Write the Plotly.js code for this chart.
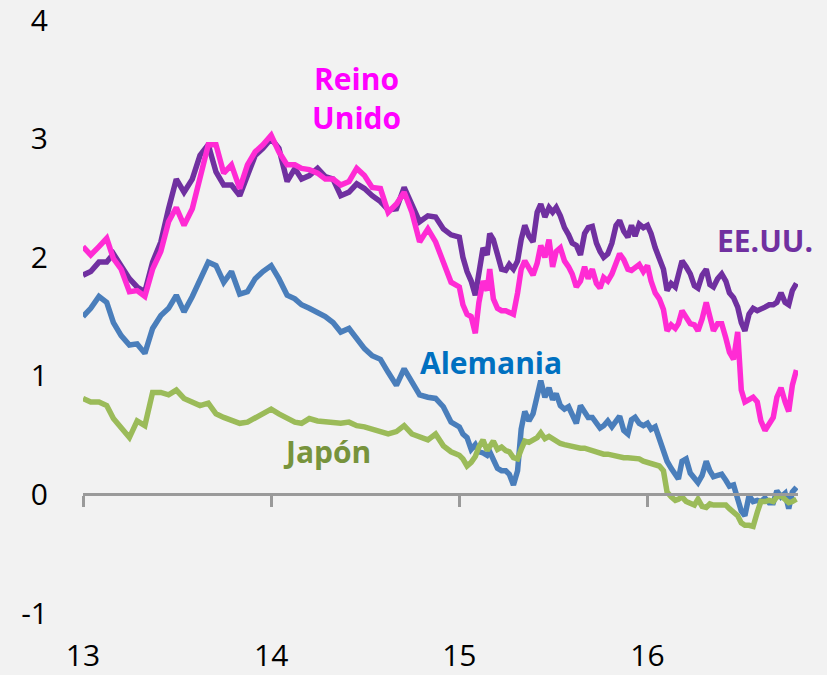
<!DOCTYPE html>
<html>
<head>
<meta charset="utf-8">
<script src="https://cdn.plot.ly/plotly-3.0.1.min.js"></script>
<style>html,body{margin:0;padding:0;background:#F2F2F2;}</style>
</head>
<body>
<div id="chart" style="width:827px;height:675px;"></div>
<script>
// half-month sampling for 2013-2014
const dates2013_14 = [
'2013-01-01','2013-01-16','2013-02-01','2013-02-16','2013-03-01','2013-03-16','2013-04-01','2013-04-16','2013-05-01','2013-05-16','2013-06-01','2013-06-16',
'2013-07-01','2013-07-16','2013-08-01','2013-08-16','2013-09-01','2013-09-16','2013-10-01','2013-10-16','2013-11-01','2013-11-16','2013-12-01','2013-12-16',
'2014-01-01','2014-01-16','2014-02-01','2014-02-16','2014-03-01','2014-03-16','2014-04-01','2014-04-16','2014-05-01','2014-05-16','2014-06-01','2014-06-16',
'2014-07-01','2014-07-16','2014-08-01','2014-08-16','2014-09-01','2014-09-16','2014-10-01','2014-10-16','2014-11-01','2014-11-16','2014-12-01','2014-12-16'
];
// quarter-month sampling for 2015-2016
const dates2015_16 = [
'2015-01-01','2015-01-08','2015-01-16','2015-01-24','2015-02-01','2015-02-08','2015-02-16','2015-02-24','2015-03-01','2015-03-08','2015-03-16','2015-03-24',
'2015-04-01','2015-04-08','2015-04-16','2015-04-24','2015-05-01','2015-05-08','2015-05-16','2015-05-24','2015-06-01','2015-06-08','2015-06-16','2015-06-24',
'2015-07-01','2015-07-08','2015-07-16','2015-07-24','2015-08-01','2015-08-08','2015-08-16','2015-08-24','2015-09-01','2015-09-08','2015-09-16','2015-09-24',
'2015-10-01','2015-10-08','2015-10-16','2015-10-24','2015-11-01','2015-11-08','2015-11-16','2015-11-24','2015-12-01','2015-12-08','2015-12-16','2015-12-24',
'2016-01-01','2016-01-08','2016-01-16','2016-01-24','2016-02-01','2016-02-08','2016-02-16','2016-02-24','2016-03-01','2016-03-08','2016-03-16','2016-03-24',
'2016-04-01','2016-04-08','2016-04-16','2016-04-24','2016-05-01','2016-05-08','2016-05-16','2016-05-24','2016-06-01','2016-06-08','2016-06-16','2016-06-24',
'2016-07-01','2016-07-08','2016-07-16','2016-07-24','2016-08-01','2016-08-08','2016-08-16','2016-08-24','2016-09-01','2016-09-08','2016-09-16','2016-09-24',
'2016-10-01','2016-10-08','2016-10-16'
];
const dates = dates2013_14.concat(dates2015_16);

const eeuu = [
1.85,1.88,1.96,1.96,2.03,1.93,1.82,1.75,1.71,1.96,2.13,2.41,2.66,2.55,2.66,2.86,2.95,2.72,2.61,2.61,2.52,2.69,2.86,2.92,
3.00,2.92,2.64,2.75,2.66,2.69,2.75,2.68,2.66,2.52,2.55,2.62,2.58,2.52,2.47,2.40,2.41,2.59,2.44,2.30,2.35,2.34,2.24,2.19,
2.17,2.00,1.88,1.80,1.68,1.85,2.08,2.02,2.20,2.15,2.00,1.90,1.89,1.94,1.90,1.97,2.15,2.27,2.18,2.13,2.38,2.45,2.34,2.42,
2.38,2.42,2.35,2.25,2.19,2.12,2.10,2.02,2.20,2.25,2.26,2.12,2.05,2.00,2.03,2.12,2.27,2.31,2.22,2.17,2.27,2.18,2.28,2.25,
2.27,2.20,2.08,2.00,1.90,1.72,1.78,1.75,1.86,1.97,1.92,1.86,1.76,1.74,1.85,1.90,1.77,1.75,1.82,1.86,1.80,1.70,1.66,1.58,
1.45,1.38,1.52,1.57,1.55,1.57,1.58,1.60,1.60,1.62,1.70,1.62,1.60,1.72,1.78
];

const reinoUnido = [
2.09,2.02,2.09,2.16,1.99,1.90,1.71,1.72,1.67,1.90,2.05,2.30,2.42,2.27,2.41,2.66,2.95,2.95,2.71,2.78,2.58,2.78,2.89,2.95,
3.03,2.89,2.78,2.78,2.75,2.74,2.71,2.66,2.66,2.61,2.64,2.75,2.69,2.59,2.58,2.38,2.45,2.55,2.38,2.13,2.24,2.13,1.96,1.79,
1.75,1.60,1.52,1.50,1.36,1.62,1.80,1.72,1.90,1.65,1.57,1.55,1.55,1.54,1.52,1.70,1.90,1.97,1.90,1.85,1.95,2.10,2.00,2.15,
1.92,2.05,2.08,1.97,1.92,1.86,1.75,1.80,1.92,1.82,1.90,1.78,1.74,1.83,1.80,1.86,1.95,2.03,1.98,1.90,1.89,1.92,1.94,1.88,
1.93,1.80,1.70,1.65,1.56,1.38,1.43,1.40,1.44,1.55,1.50,1.44,1.43,1.38,1.48,1.62,1.50,1.38,1.44,1.44,1.32,1.20,1.14,1.37,
0.88,0.78,0.80,0.82,0.78,0.62,0.54,0.60,0.65,0.82,0.90,0.78,0.70,0.92,1.05
];

const alemania = [
1.50,1.57,1.67,1.62,1.45,1.34,1.26,1.27,1.19,1.40,1.51,1.57,1.68,1.54,1.67,1.82,1.96,1.93,1.79,1.88,1.69,1.71,1.82,1.88,
1.93,1.82,1.68,1.65,1.60,1.57,1.54,1.50,1.45,1.37,1.40,1.31,1.23,1.17,1.14,1.03,0.92,1.06,0.95,0.84,0.82,0.81,0.74,0.61,
0.57,0.51,0.48,0.38,0.42,0.36,0.35,0.33,0.36,0.28,0.22,0.20,0.20,0.17,0.08,0.20,0.55,0.70,0.62,0.68,0.85,0.96,0.82,0.90,
0.80,0.85,0.75,0.72,0.74,0.68,0.60,0.75,0.70,0.65,0.65,0.60,0.56,0.58,0.62,0.57,0.63,0.66,0.54,0.51,0.63,0.65,0.60,0.58,
0.60,0.55,0.57,0.47,0.36,0.28,0.22,0.16,0.13,0.28,0.30,0.18,0.13,0.10,0.16,0.28,0.20,0.15,0.16,0.17,0.12,0.07,0.08,-0.02,
-0.14,-0.18,-0.01,-0.06,-0.05,-0.06,-0.03,-0.07,-0.07,0.03,-0.02,0.01,-0.12,0.02,0.06
];

const japon = [
0.81,0.78,0.78,0.75,0.64,0.57,0.48,0.62,0.58,0.86,0.86,0.84,0.88,0.81,0.78,0.75,0.77,0.68,0.65,0.62,0.60,0.61,0.65,0.69,
0.72,0.68,0.64,0.61,0.60,0.64,0.62,0.61,0.61,0.60,0.61,0.58,0.57,0.55,0.54,0.51,0.53,0.58,0.51,0.48,0.46,0.51,0.41,0.36,
0.33,0.30,0.24,0.27,0.32,0.40,0.46,0.37,0.40,0.45,0.38,0.40,0.37,0.36,0.31,0.30,0.38,0.45,0.44,0.46,0.48,0.52,0.47,0.49,
0.47,0.44,0.43,0.42,0.41,0.40,0.39,0.39,0.39,0.38,0.37,0.35,0.34,0.34,0.34,0.33,0.32,0.31,0.31,0.31,0.31,0.31,0.30,0.28,
0.27,0.27,0.25,0.24,0.20,0.02,-0.02,-0.05,-0.04,-0.02,-0.06,-0.08,-0.09,-0.04,-0.10,-0.11,-0.08,-0.09,-0.09,-0.08,-0.09,-0.12,-0.15,-0.18,
-0.24,-0.26,-0.26,-0.27,-0.15,-0.06,-0.06,-0.05,-0.06,-0.02,-0.01,-0.05,-0.07,-0.06,-0.04
];

const xTickVals = ['2013-01-01','2014-01-01','2015-01-01','2016-01-01'];
const xTickText = ['13','14','15','16'];
const yTickVals = [-1,0,1,2,3,4];
const yTickText = ['-1','0','1','2','3','4'];
const xRange = ['2013-01-01','2016-10-19'];

const FONT = 'Open Sans, Liberation Sans, Arial, sans-serif';

function line(y, color, axis) {
  return {x: dates, y: y, type: 'scatter', mode: 'lines', xaxis: axis || 'x',
          line: {color: color, width: 5.5}, hoverinfo: 'skip'};
}

const traces = [
  line(eeuu, '#7030A0'),
  line(reinoUnido, '#FF2BD4'),
  line(alemania, '#4A7EBB'),
  line(japon, '#9BBB59', 'x2')
];

function label(text, x, y, color) {
  return {text: '<b>' + text + '</b>', xref: 'paper', yref: 'paper', x: x, y: y,
          xanchor: 'center', yanchor: 'middle', showarrow: false, align: 'center',
          font: {family: FONT, size: 30, color: color}};
}

const layout = {
  width: 827, height: 675,
  paper_bgcolor: '#F2F2F2', plot_bgcolor: '#F2F2F2',
  margin: {l: 83, r: 29, t: 20, b: 62},
  showlegend: false,
  font: {family: FONT, size: 30, color: '#000000'},
  xaxis: {type: 'date', range: xRange, tickmode: 'array', tickvals: xTickVals, ticktext: xTickText,
          ticks: 'outside', ticklen: 16, tickcolor: 'rgba(0,0,0,0)', showgrid: false, zeroline: false,
          showline: false, fixedrange: true, ticklabeloverflow: 'allow'},
  xaxis2: {type: 'date', overlaying: 'x', anchor: 'free', position: 0.2, range: xRange,
           tickmode: 'array', tickvals: xTickVals, showticklabels: false,
           ticks: 'outside', ticklen: 11, tickwidth: 3, tickcolor: '#9A9A9A',
           showline: true, linecolor: '#9A9A9A', linewidth: 3, showgrid: false, zeroline: false, fixedrange: true},
  yaxis: {range: [-1, 4.002], tickmode: 'array', tickvals: yTickVals, ticktext: yTickText,
          ticks: 'outside', ticklen: 28, ticklabeloverflow: 'allow',
          tickcolor: 'rgba(0,0,0,0)', showgrid: false, zeroline: false, showline: false, fixedrange: true},
  annotations: [
    label('Reino<br>Unido', 0.383, 0.868, '#FF00FF'),
    label('EE.UU.', 0.954, 0.629, '#7030A0'),
    label('Alemania', 0.571, 0.423, '#0070C0'),
    label('Japón', 0.341, 0.272, '#77933C')
  ]
};

Plotly.newPlot('chart', traces, layout, {displayModeBar: false, staticPlot: true});
</script>
</body>
</html>
